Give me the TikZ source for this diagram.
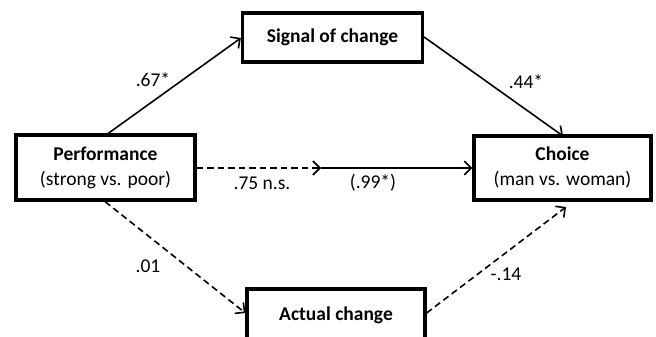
\documentclass[tikz,border=0pt]{standalone}
\usepackage{fontspec}
\setmainfont{Carlito}
\usetikzlibrary{arrows.meta}
\begin{document}
\begin{tikzpicture}[x=1pt,y=-1pt,
  box/.style={draw, line width=3.2pt, fill=white, inner sep=0pt, align=center, font=\fontsize{19.5}{25}\selectfont},
  conn/.style={line width=1.6pt, -{Straight Barb[length=7pt,width=14pt,line width=1.6pt]}},
  dconn/.style={conn, dash pattern=on 6.5pt off 4pt},
  lab/.style={font=\fontsize{19.5}{23}\selectfont, inner sep=0pt}]
\useasboundingbox (0,0) rectangle (656,337);
\clip (0,0) rectangle (656,337);
\node[box, minimum width=179pt, minimum height=65pt] (perf) at (105.5,167.5) {\textbf{Performance}\\(strong vs. poor)};
\node[box, minimum width=180pt, minimum height=49pt] (sig) at (332.5,37.5) {\textbf{Signal of change}};
\node[box, minimum width=177pt, minimum height=64pt] (choice) at (562.5,168) {\textbf{Choice}\\(man vs. woman)};
\node[box, minimum width=178pt, minimum height=52pt] (act) at (336,315) {\textbf{Actual change}};
\coordinate (mid) at (321,168);
\draw[conn] (106,135) -- (sig.west |- 0,38);
\draw[conn] (sig.east |- 0,37) -- (563,136);
\draw[dconn] (perf.east |- mid) -- (mid);
\draw[conn] (mid) -- (choice.west |- mid);
\draw[dconn] (perf.south -| 105,0) -- (act.west |- 0,313);
\draw[dconn] (act.east |- 0,313) -- (566,207);
\node[lab] (l1) at (153,80) {.67*};
\node[lab] (l2) at (526,82) {.44*};
\node[lab] (l3) at (262,183) {.75 n.s.};
\node[lab] (l4) at (373,183) {(.99*)};
\node[lab] (l5) at (148,266) {.01};
\node[lab] (l6) at (506,274) {-.14};
\end{tikzpicture}
\end{document}
